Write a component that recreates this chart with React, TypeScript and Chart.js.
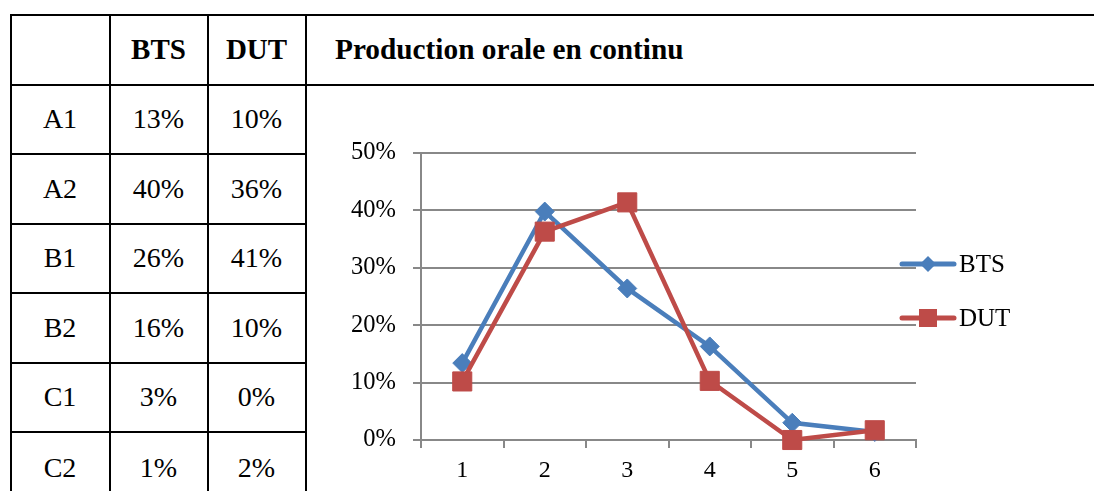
import React, { useEffect, useRef } from "react";
import { Chart, registerables } from "chart.js";

Chart.register(...registerables);

const levels = ["A1", "A2", "B1", "B2", "C1", "C2"];
const xLabels = ["1", "2", "3", "4", "5", "6"];
const btsValues = [13.4, 39.8, 26.4, 16.3, 3.0, 1.4];
const dutValues = [10.2, 36.3, 41.4, 10.3, 0, 1.7];
const seriesNames = ["BTS", "DUT"];
const yTicks = [0, 10, 20, 30, 40, 50];
const chartTitle = "Production orale en continu";

const BLUE = "#4A7EBB";
const RED = "#BE4B48";
const GRID = "#888888";
const FONT = '"Liberation Serif", "Times New Roman", Times, serif';

const legendPlugin = {
  id: "customLegend",
  afterDraw(chart: any) {
    const ctx = chart.ctx;
    const { right, top } = chart.chartArea;
    const items = [
      { name: seriesNames[0], color: BLUE, style: "diamond", dy: 111 },
      { name: seriesNames[1], color: RED, style: "square", dy: 165 },
    ];
    ctx.save();
    items.forEach((it) => {
      const y = top + it.dy;
      ctx.strokeStyle = it.color;
      ctx.lineWidth = 5;
      ctx.lineCap = "round";
      ctx.beginPath();
      ctx.moveTo(right - 14, y);
      ctx.lineTo(right + 38, y);
      ctx.stroke();
      ctx.fillStyle = it.color;
      const mx = right + 12;
      ctx.beginPath();
      if (it.style === "diamond") {
        ctx.moveTo(mx, y - 8);
        ctx.lineTo(mx + 8, y);
        ctx.lineTo(mx, y + 8);
        ctx.lineTo(mx - 8, y);
        ctx.closePath();
      } else {
        ctx.rect(mx - 9, y - 9, 18, 18);
      }
      ctx.fill();
      ctx.fillStyle = "#000";
      ctx.font = `25px ${FONT}`;
      ctx.textBaseline = "middle";
      ctx.textAlign = "left";
      ctx.fillText(it.name, right + 43, y + 1);
    });
    ctx.restore();
  },
};

function ChartBox() {
  const ref = useRef<HTMLCanvasElement | null>(null);
  useEffect(() => {
    if (!ref.current) return;
    const chart = new Chart(ref.current, {
      type: "line",
      data: {
        labels: xLabels,
        datasets: [
          {
            label: seriesNames[0],
            data: btsValues,
            borderColor: BLUE,
            backgroundColor: BLUE,
            borderWidth: 4.5,
            pointStyle: "rectRot",
            pointRadius: 9.5,
            pointBorderWidth: 1,
            pointBackgroundColor: BLUE,
            pointBorderColor: BLUE,
            tension: 0,
            clip: false as any,
            order: 2,
          },
          {
            label: seriesNames[1],
            data: dutValues,
            borderColor: RED,
            backgroundColor: RED,
            borderWidth: 4.5,
            pointStyle: "rect",
            pointRadius: 13.5,
            pointBorderWidth: 1,
            pointBackgroundColor: RED,
            pointBorderColor: RED,
            tension: 0,
            clip: false as any,
            order: 1,
          },
        ],
      },
      options: {
        responsive: false,
        animation: false,
        devicePixelRatio: 1,
        layout: { padding: { top: 67, right: 178, left: 0, bottom: 0 } },
        plugins: {
          legend: { display: false },
          tooltip: { enabled: false },
          title: { display: false },
        },
        scales: {
          x: {
            type: "category",
            offset: true,
            grid: {
              display: true,
              drawOnChartArea: false,
              drawTicks: true,
              tickLength: 8,
              offset: true,
              color: GRID,
              lineWidth: 2,
            },
            border: { display: true, color: GRID, width: 2 },
            ticks: {
              color: "#000",
              font: { family: FONT, size: 24 },
              padding: 8,
              maxRotation: 0,
            },
            afterFit(scale: any) {
              scale.height = 51;
            },
          },
          y: {
            min: 0,
            max: 50,
            afterBuildTicks(scale: any) {
              scale.ticks = yTicks.map((v) => ({ value: v }));
            },
            grid: {
              color: GRID,
              lineWidth: 2,
              drawTicks: true,
              tickLength: 8,
            },
            border: { display: true, color: GRID, width: 2 },
            ticks: {
              color: "#000",
              font: { family: FONT, size: 24.5 },
              padding: 17,
              callback: (v: any) => `${v}%`,
            },
            afterFit(scale: any) {
              scale.width = 114;
            },
          },
        },
      },
      plugins: [legendPlugin],
    });
    return () => chart.destroy();
  }, []);
  return (
    <canvas
      ref={ref}
      width={787}
      height={405}
      style={{ position: "absolute", left: 307, top: 86, width: 787, height: 405 }}
    />
  );
}

const hLine = (top: number, left: number, width: number, key: string) => (
  <div key={key} style={{ position: "absolute", top, left, width, height: 2, background: "#000" }} />
);
const vLine = (left: number, top: number, height: number, key: string) => (
  <div key={key} style={{ position: "absolute", top, left, width: 2, height, background: "#000" }} />
);

export default function App() {
  const rowTops = [14, 83.5, 153, 222.5, 292, 361.5, 431];
  const colX = [9.5, 108.5, 206.5, 304.5];
  const cellText = (text: string, x0: number, x1: number, y0: number, y1: number, bold: boolean, key: string) => (
    <div
      key={key}
      style={{
        position: "absolute",
        left: x0,
        top: y0,
        width: x1 - x0,
        height: y1 - y0,
        display: "flex",
        alignItems: "center",
        justifyContent: "center",
        fontFamily: FONT,
        fontSize: bold ? 29 : 28,
        fontWeight: bold ? "bold" : "normal",
        color: "#000",
        whiteSpace: "nowrap",
      }}
    >
      {text}
    </div>
  );
  const els: any[] = [];
  els.push(cellText(seriesNames[0], colX[1] + 2, colX[2], rowTops[0] + 2, rowTops[1], true, "h1"));
  els.push(cellText(seriesNames[1], colX[2] + 2, colX[3], rowTops[0] + 2, rowTops[1], true, "h2"));
  levels.forEach((lv, i) => {
    const y0 = rowTops[i + 1] + 2;
    const y1 = i + 2 < rowTops.length ? rowTops[i + 2] : rowTops[i + 1] + 71.5;
    els.push(cellText(lv, colX[0] + 2, colX[1], y0, y1, false, "l" + i));
    els.push(cellText(`${Math.round(btsValues[i])}%`, colX[1] + 2, colX[2], y0, y1, false, "b" + i));
    els.push(cellText(`${Math.round(dutValues[i])}%`, colX[2] + 2, colX[3], y0, y1, false, "d" + i));
  });
  return (
    <div style={{ position: "absolute", left: 0, top: 0, width: 1094, height: 491, overflow: "hidden", background: "#fff" }}>
      {hLine(rowTops[0], colX[0], 1094, "t0")}
      {hLine(rowTops[1], colX[0], 1094, "t1")}
      {rowTops.slice(2).map((t, i) => hLine(t, colX[0], colX[3] - colX[0] + 2, "r" + i))}
      {colX.map((x, i) => vLine(x, rowTops[0], 491, "c" + i))}
      <div
        style={{
          position: "absolute",
          left: 335,
          top: rowTops[0] + 2,
          height: rowTops[1] - rowTops[0] - 2,
          display: "flex",
          alignItems: "center",
          fontFamily: FONT,
          fontSize: 29.3,
          fontWeight: "bold",
          whiteSpace: "nowrap",
        }}
      >
        {chartTitle}
      </div>
      {els}
      <ChartBox />
    </div>
  );
}
